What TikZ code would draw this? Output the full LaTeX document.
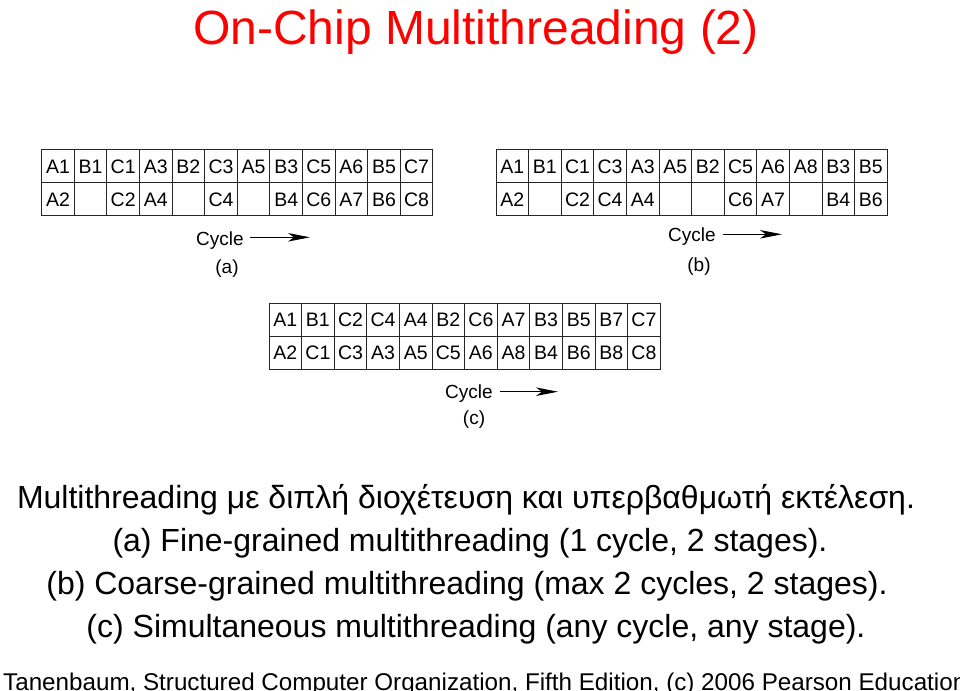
\documentclass[tikz,border=0pt]{standalone}
\usepackage{fontspec}
\setmainfont{Liberation Sans}
\usetikzlibrary{arrows.meta}
\newcommand\drawgrid[5]{%
  \foreach \t [count=\i] in {#4} {\node[cell] (#1-1-\i) at ({#2+(\i-0.5)*32.6},{#3+16.5}) {\t};}
  \foreach \t [count=\i] in {#5} {\node[cell] (#1-2-\i) at ({#2+(\i-0.5)*32.6},{#3+49.5}) {\t};}
}
\begin{document}
\begin{tikzpicture}[x=1pt,y=-1pt,
  cell/.style={draw=black!85, line width=0.9pt, minimum width=32.6pt, minimum height=33pt, inner sep=0pt, text height=14pt, text depth=0pt, font=\fontsize{19.5}{19.5}\selectfont},
  lab/.style={font=\fontsize{19}{23}\selectfont, inner sep=0pt},
  cyclearrow/.style={line width=1.1pt, -{Stealth[length=22pt,width=8.5pt,inset=6pt]}},
  body/.style={font=\fontsize{32}{38}\selectfont, anchor=base, inner sep=0pt},
]
\useasboundingbox[fill=white] (0,0) rectangle (960,690);
\node[font=\fontsize{48}{56}\selectfont, text=red, anchor=base, inner sep=0pt] (title) at (476,45) {On-Chip Multithreading (2)};

\drawgrid{a}{41.7}{149.7}{A1,B1,C1,A3,B2,C3,A5,B3,C5,A6,B5,C7}{A2,{},C2,A4,{},C4,{},B4,C6,A7,B6,C8}
\drawgrid{b}{496}{149.7}{A1,B1,C1,C3,A3,A5,B2,C5,A6,A8,B3,B5}{A2,{},C2,C4,A4,{},{},C6,A7,{},B4,B6}
\drawgrid{c}{269}{303}{A1,B1,C2,C4,A4,B2,C6,A7,B3,B5,B7,C7}{A2,C1,C3,A3,A5,C5,A6,A8,B4,B6,B8,C8}

% (a)
\node[lab, anchor=base west] (cyca) at (196,245.7) {Cycle};
\coordinate (as) at (250,237.3);
\coordinate (ae) at (310,237.3);
\draw[cyclearrow] (as) -- (ae);
\node[lab, anchor=base] (laba) at (227,273.3) {(a)};
% (b)
\node[lab, anchor=base west] (cycb) at (668,241.7) {Cycle};
\coordinate (bs) at (723,234.3);
\coordinate (be) at (782,234.3);
\draw[cyclearrow] (bs) -- (be);
\node[lab, anchor=base] (labb) at (699,271) {(b)};
% (c)
\node[lab, anchor=base west] (cycc) at (445,398.3) {Cycle};
\coordinate (cs) at (500,391.7);
\coordinate (ce) at (558,391.7);
\draw[cyclearrow] (cs) -- (ce);
\node[lab, anchor=base] (labc) at (474,424) {(c)};

\node[body] (l1) at (466,508) {Multithreading με διπλή διοχέτευση και υπερβαθμωτή εκτέλεση.};
\node[body] (l2) at (470,551) {(a) Fine-grained multithreading (1 cycle, 2 stages).};
\node[body] (l3) at (467,594) {(b) Coarse-grained multithreading (max 2 cycles, 2 stages).};
\node[body] (l4) at (476,637) {(c) Simultaneous multithreading (any cycle, any stage).};
\node[font=\fontsize{24.2}{28}\selectfont, anchor=base west, inner sep=0pt] (foot) at (3,690) {Tanenbaum, Structured Computer Organization, Fifth Edition, (c) 2006 Pearson Education};
\end{tikzpicture}
\end{document}
